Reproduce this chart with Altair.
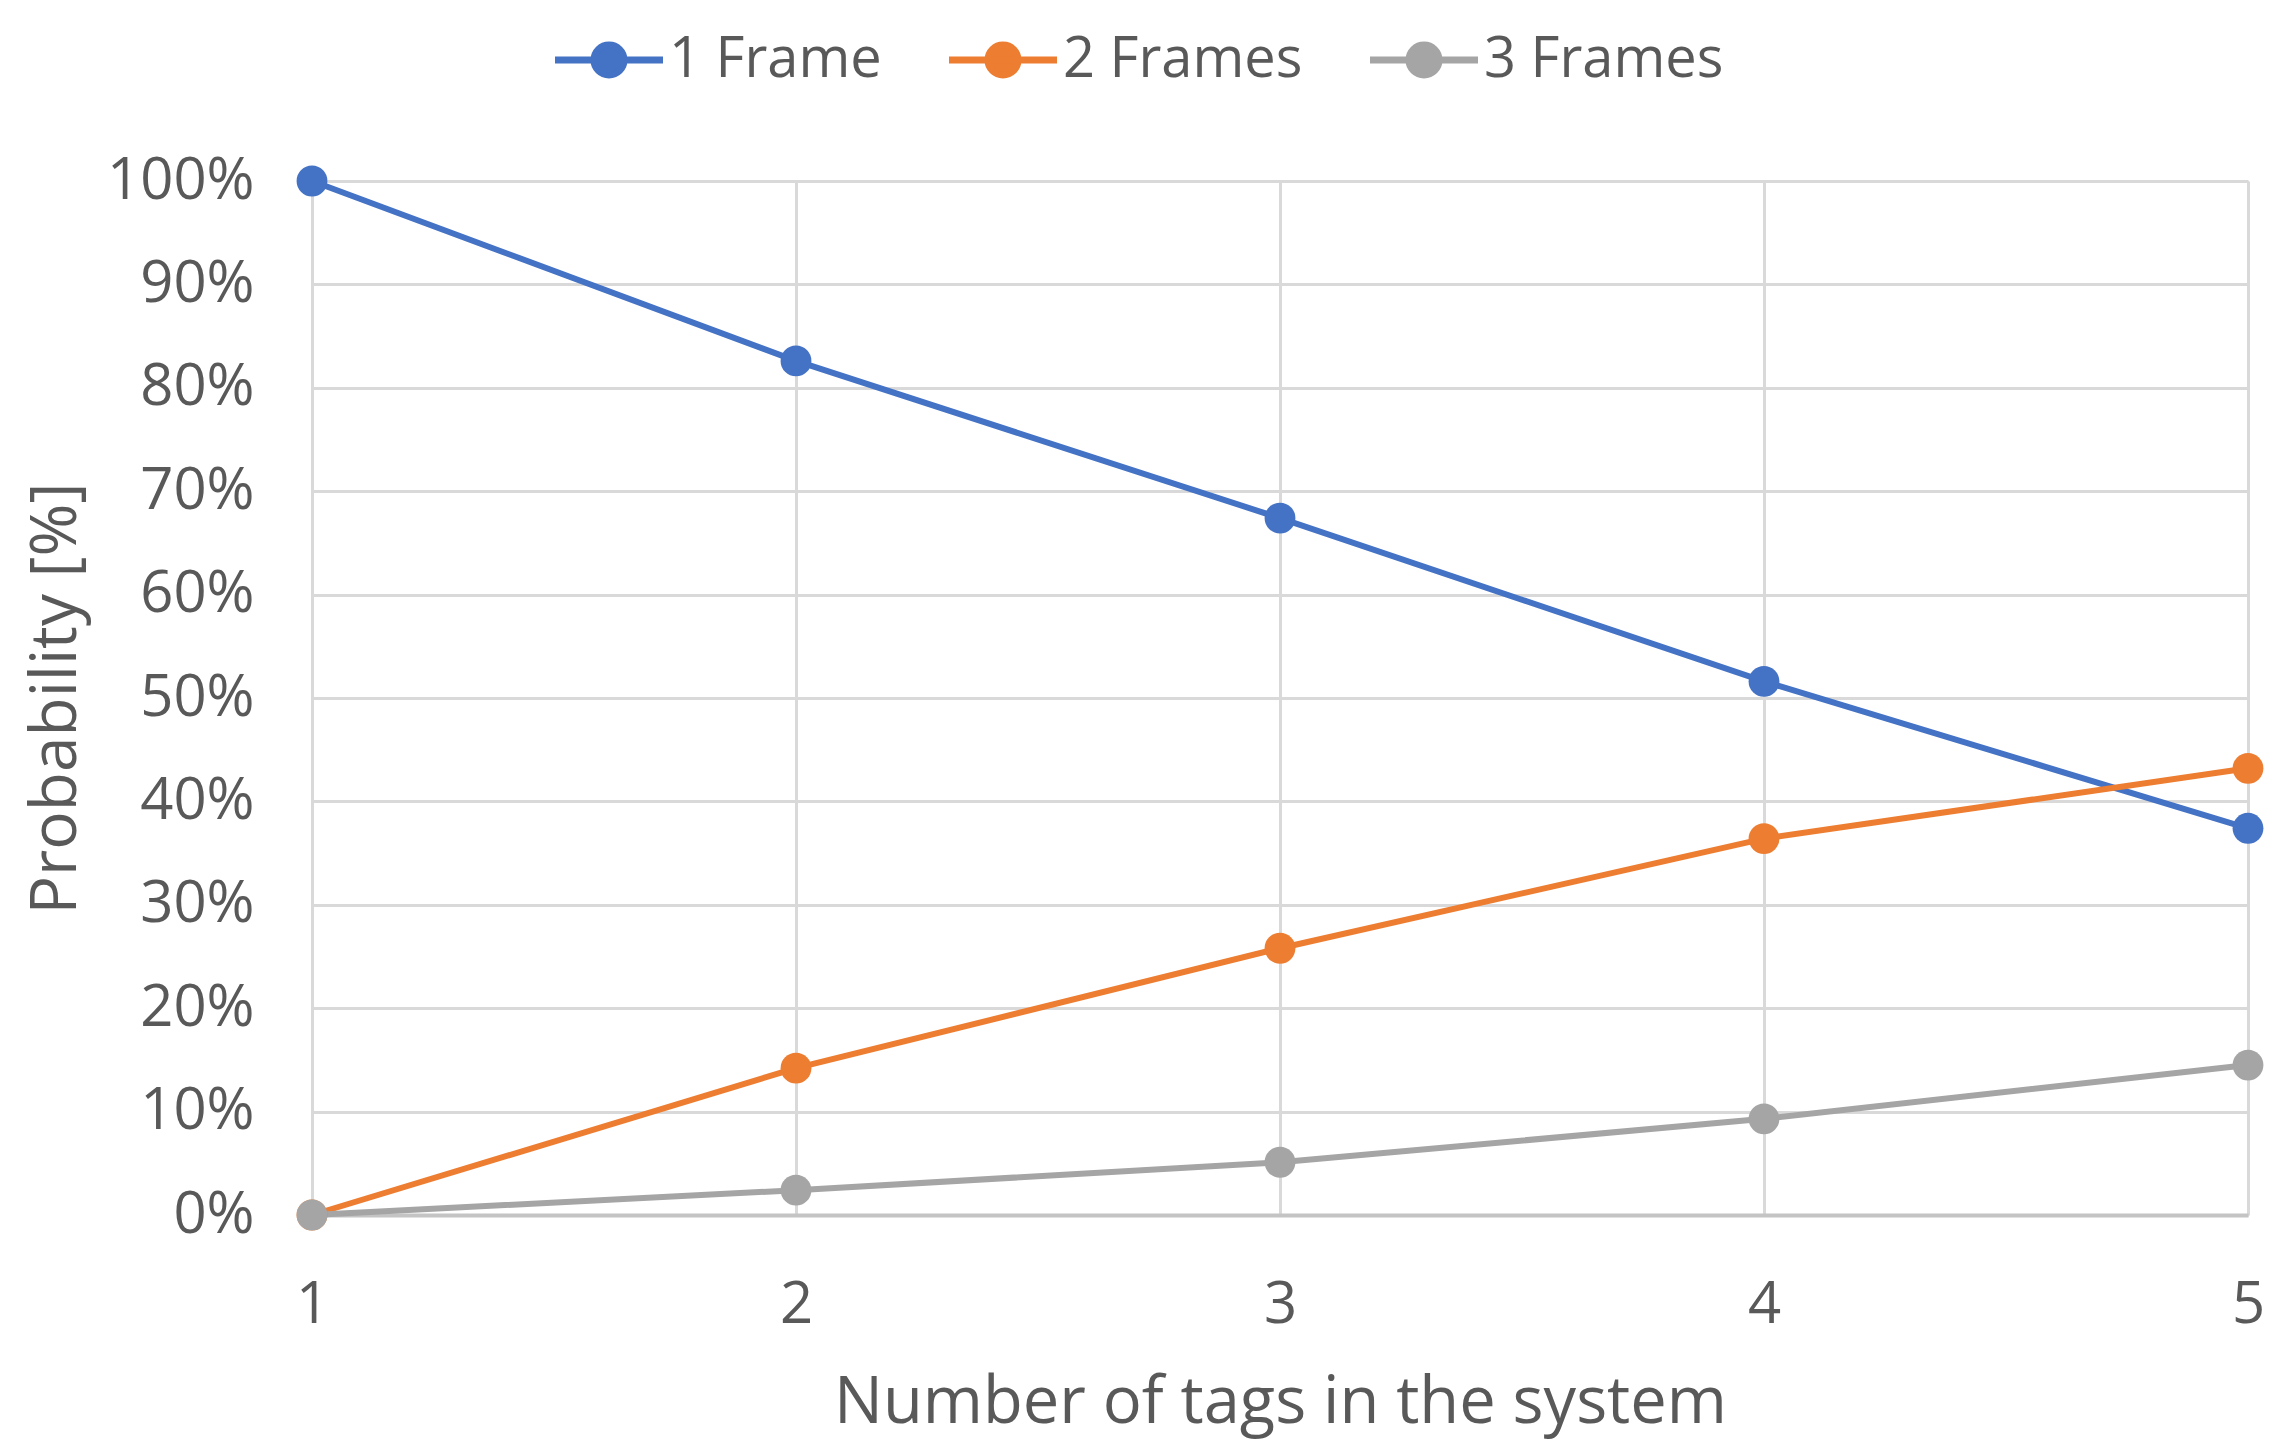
import altair as alt
import pandas as pd

tags = [1, 2, 3, 4, 5]
series_names = ["1 Frame", "2 Frames", "3 Frames"]
one_frame = [1.000, 0.826, 0.674, 0.516, 0.374]
two_frames = [0.000, 0.142, 0.258, 0.364, 0.432]
three_frames = [0.000, 0.024, 0.051, 0.093, 0.145]
colors = ["#4472C4", "#ED7D31", "#A5A5A5"]

rows = []
for name, vals in zip(series_names, [one_frame, two_frames, three_frames]):
    for t, v in zip(tags, vals):
        rows.append({"tags": t, "prob": v, "series": name})
df = pd.DataFrame(rows)

FONT = "Open Sans"
TXT = "#595959"
W, H = 1936, 1034

legend_path = ("M-3.6,0L3.6,0 M-1,0A1,1 0 1,0 1,0A1,1 0 1,0 -1,0Z")

x_enc = alt.X("tags:Q",
              scale=alt.Scale(domain=[1, 5], nice=False, zero=False),
              axis=alt.Axis(values=tags, format="d", title="Number of  tags in the system",
                            grid=True, gridColor="#d9d9d9", gridWidth=3,
                            domain=True, domainColor="#c4c4c4", domainWidth=4,
                            ticks=False, labelPadding=61, labelFontSize=58,
                            labelFlush=False,
                            labelFont=FONT, labelColor=TXT,
                            titleFont=FONT, titleFontSize=65, titleColor=TXT,
                            titleFontWeight="normal",
                            titleX=W / 2, titleY=187, titleBaseline="middle",
                            titleAlign="center"))
y_enc = alt.Y("prob:Q",
              scale=alt.Scale(domain=[0, 1], nice=False),
              axis=alt.Axis(values=[i / 10 for i in range(11)], format=".0%",
                            title="Probability [%]",
                            grid=True, gridColor="#d9d9d9", gridWidth=3,
                            domain=False, ticks=False, labelPadding=58,
                            labelFontSize=58, labelFont=FONT, labelColor=TXT,
                            titleFont=FONT, titleFontSize=64, titleColor=TXT,
                            titleFontWeight="normal",
                            titleX=-256, titleY=H / 2, titleAngle=270,
                            titleBaseline="middle", titleAlign="center"))
color_enc = alt.Color("series:N",
                      scale=alt.Scale(domain=series_names, range=colors),
                      legend=alt.Legend(title=None, orient="none", direction="horizontal",
                                        legendX=269, legendY=-149,
                                        symbolType=legend_path, symbolSize=900,
                                        symbolStrokeWidth=7, labelLimit=0,
                                        labelFont=FONT, labelFontSize=56,
                                        labelColor=TXT, labelOffset=32,
                                        columnPadding=53, symbolOpacity=1))

base = alt.Chart(df).encode(x=x_enc, y=y_enc, color=color_enc,
                            order=alt.Order("tags:Q"))
lines = base.mark_line(strokeWidth=6)
points = base.mark_point(filled=True, size=950, opacity=1)

chart = alt.layer(lines, points).properties(
    width=W, height=H,
    autosize=alt.AutoSizeParams(type="none"),
    padding={"left": 304, "top": 173, "right": 20, "bottom": 227},
).configure_view(stroke=None).configure(background="white")

chart.save("out.html", embed_options={"renderer": "svg", "actions": False})
